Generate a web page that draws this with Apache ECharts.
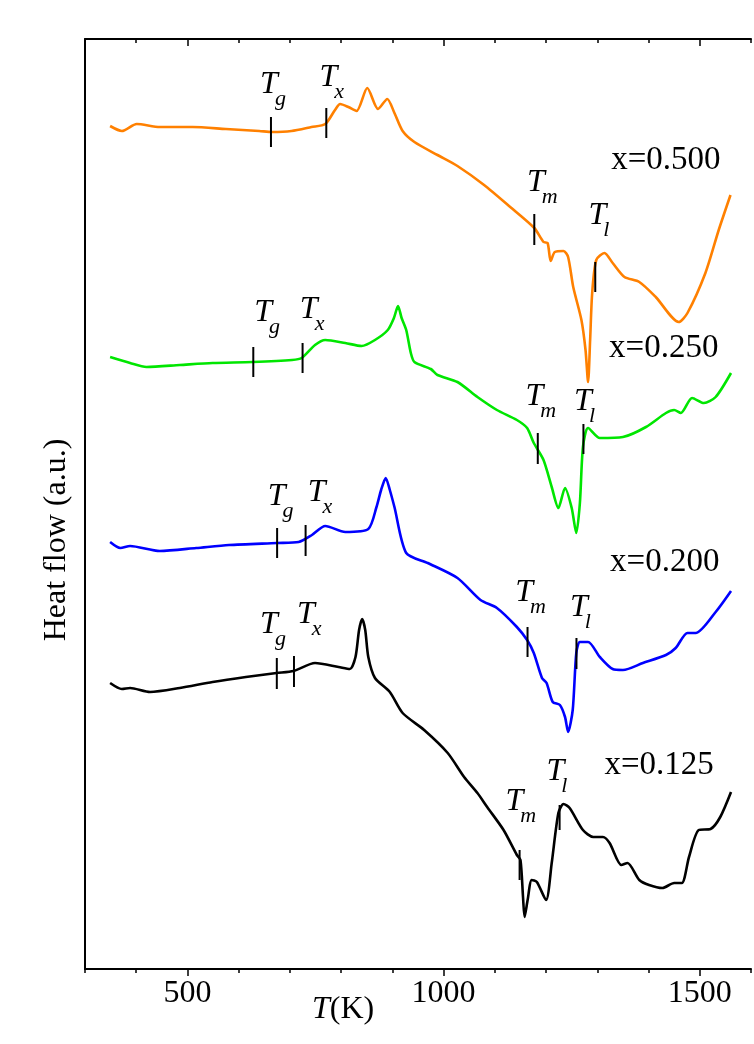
<!DOCTYPE html>
<html>
<head>
<meta charset="utf-8">
<script src="https://cdn.jsdelivr.net/npm/echarts@6/dist/echarts.min.js"></script>
<style>html,body{margin:0;padding:0;background:#fff}#c{width:754px;height:1044px}</style>
</head>
<body>
<div id="c"></div>
<script>
// ---- data (T in K, heat flow in a.u.) ----
const tickLabels = [500, 1000, 1500];

const T500 = [349,372,401,446,510,575,640,665,703,742,769,788,798,814,830,851,872,890,904,920,943,988,1027,1079,1130,1177,1195,1203,1209,1217,1234,1243,1253,1269,1277,1282,1286,1290,1298,1314,1330,1353,1382,1414,1459,1476,1511,1537,1560];
const H500 = [84.3,83.8,84.5,84.2,84.2,84.0,83.8,83.7,83.8,84.2,84.5,85.9,86.5,86.2,85.8,88.1,86.0,87.0,85.6,83.8,82.7,81.4,80.3,78.4,76.2,74.1,72.7,72.6,70.8,71.7,71.8,71.2,68.2,64.9,61.9,58.7,62.9,67.6,70.9,71.6,70.6,69.2,68.7,67.2,64.7,65.6,69.6,73.9,77.4];

const T250 = [349,388,420,485,549,627,704,723,749,769,808,840,866,891,903,911,918,927,936,943,975,988,1027,1066,1104,1143,1163,1176,1195,1211,1224,1237,1250,1259,1266,1272,1282,1305,1350,1395,1434,1450,1463,1485,1508,1531,1561];
const H250 = [61.2,60.6,60.2,60.4,60.6,60.7,60.9,61.1,62.4,62.9,62.6,62.3,62.9,63.9,65.1,66.3,65.1,63.9,61.6,60.7,60.0,59.4,58.7,57.2,55.9,54.9,54.1,52.6,50.9,48.2,46.1,48.1,46.1,43.6,46.6,52.2,54.1,53.1,53.2,54.2,55.6,55.9,55.6,57.1,56.6,57.2,59.6];

const T200 = [349,369,388,446,517,581,675,717,743,769,808,853,869,878,887,895,904,927,969,1027,1072,1104,1143,1163,1176,1192,1201,1213,1227,1237,1243,1252,1259,1266,1282,1305,1330,1350,1389,1434,1453,1476,1492,1531,1561];
const H200 = [42.7,42.1,42.3,41.8,42.1,42.4,42.6,42.7,43.4,44.3,43.7,44.0,46.2,47.9,49.1,47.9,46.2,41.6,40.6,39.1,36.9,36.1,34.2,32.9,31.6,29.1,28.6,26.7,26.4,25.2,23.7,25.9,31.6,32.7,32.7,31.2,30.0,29.9,30.6,31.4,32.1,33.6,33.6,35.7,37.8];

const T125 = [349,372,388,427,485,549,614,674,707,749,795,817,828,835,841,847,853,866,895,920,962,1008,1040,1066,1085,1117,1143,1150,1155,1158,1164,1172,1182,1200,1211,1224,1234,1246,1272,1292,1311,1324,1347,1359,1382,1401,1427,1450,1465,1479,1498,1521,1540,1561];
const H125 = [28.6,28.0,28.1,27.7,28.1,28.7,29.2,29.6,29.8,30.6,30.2,30.0,31.2,33.9,35.0,33.9,31.2,29.1,27.7,25.6,23.9,21.6,19.2,17.6,16.2,13.9,11.4,10.9,7.2,5.2,6.9,8.9,8.7,6.9,10.6,15.6,16.5,16.1,13.9,13.2,13.2,12.6,10.4,10.6,8.9,8.4,8.1,8.6,8.6,11.2,13.9,14.0,15.2,17.7];

// characteristic temperatures: [T, top, bottom]
const marks500 = [[663,85.2,82.2],[771,86.1,83.1],[1177,75.5,72.4],[1296,70.7,67.7]];
const marks250 = [[628.5,62.2,59.2],[724.7,62.6,59.6],[1183.8,53.6,50.5],[1272.9,54.5,51.5]];
const marks200 = [[675,44.1,41.1],[730.6,44.4,41.3],[1163.8,34.2,31.2],[1259.3,33.1,30.0]];
const marks125 = [[674.4,31.1,28.0],[707.9,31.3,28.2],[1148.3,11.9,8.9],[1226.4,16.4,13.9]];

// annotation labels: [T, heat flow, subscript]
const tLabels = [
  [659,87.4,'g'],[775,88.1,'x'],[1180,77.6,'m'],[1300,74.3,'l'],
  [647.5,64.6,'g'],[736.6,64.9,'x'],[1177,56.2,'m'],[1272,55.7,'l'],
  [674,46.2,'g'],[752,46.6,'x'],[1157,36.6,'m'],[1264,35.1,'l'],
  [659,33.4,'g'],[731,34.4,'x'],[1138,15.7,'m'],[1218,18.7,'l']
];
const seriesNames = ['x=0.500','x=0.250','x=0.200','x=0.125'];
const nameLabels = [[1327,79.9],[1323,61.1],[1325,39.7],[1314,19.4]];

// ---- chart ----
const FONT = '"Liberation Serif","Times New Roman",serif';
const zip = (a,b) => a.map((v,i)=>[v,b[i]]);
const curves = [
  {name: seriesNames[0], t: T500, h: H500, color: '#FF8000', marks: marks500},
  {name: seriesNames[1], t: T250, h: H250, color: '#00E600', marks: marks250},
  {name: seriesNames[2], t: T200, h: H200, color: '#0000FF', marks: marks200},
  {name: seriesNames[3], t: T125, h: H125, color: '#000000', marks: marks125}
];

const series = [];
curves.forEach(c => {
  series.push({
    type: 'line', name: c.name, data: zip(c.t, c.h), smooth: 0.25,
    showSymbol: false, symbol: 'none', lineStyle: {color: c.color, width: 2.6},
    z: 2, silent: true
  });
});
curves.forEach(c => {
  c.marks.forEach(m => {
    series.push({
      type: 'line', data: [[m[0], m[1]], [m[0], m[2]]], symbol: 'none',
      lineStyle: {color: '#000', width: 2}, z: 5, silent: true
    });
  });
});
series.push({
  type: 'custom', z: 6, silent: true,
  data: tLabels.map(d => [d[0], d[1]]),
  renderItem: function (params, api) {
    const p = api.coord([api.value(0), api.value(1)]);
    const sub = tLabels[params.dataIndex][2];
    return {
      type: 'group',
      children: [
        {type: 'text', x: p[0], y: p[1] - 10,
         style: {text: 'T', fontSize: 32, fontStyle: 'italic', fontFamily: FONT, fill: '#000', align: 'center', verticalAlign: 'middle'}},
        {type: 'text', x: p[0] + 6, y: p[1] + 4,
         style: {text: sub, fontSize: 22, fontStyle: 'italic', fontFamily: FONT, fill: '#000', align: 'left', verticalAlign: 'middle'}}
      ]
    };
  }
});
series.push({
  type: 'custom', z: 6, silent: true,
  data: nameLabels,
  renderItem: function (params, api) {
    const p = api.coord([api.value(0), api.value(1)]);
    return {type: 'text', x: p[0], y: p[1] - 10,
      style: {text: seriesNames[params.dataIndex], fontSize: 33, fontFamily: FONT, fill: '#000', align: 'left', verticalAlign: 'middle'}};
  }
});

const baseX = {type: 'value', min: 300, max: 1600, interval: 100, splitLine: {show: false}};
const option = {
  animation: false,
  backgroundColor: '#fff',
  grid: {left: 85, top: 39, width: 671, height: 930},
  xAxis: [
    Object.assign({}, baseX, {
      position: 'bottom',
      axisLine: {lineStyle: {color: '#000', width: 2}},
      axisTick: {inside: false, length: 4, lineStyle: {color: '#000', width: 1.5}},
      axisLabel: {fontSize: 32, fontFamily: FONT, color: '#000', margin: 9,
        formatter: v => (tickLabels.indexOf(v) >= 0 ? String(v) : '')}
    }),
    Object.assign({}, baseX, {
      position: 'bottom',
      axisLine: {show: false},
      axisTick: {inside: false, length: 7, customValues: tickLabels, lineStyle: {color: '#000', width: 1.5}},
      axisLabel: {show: false}
    }),
    Object.assign({}, baseX, {
      position: 'top',
      axisLine: {lineStyle: {color: '#000', width: 2}},
      axisTick: {inside: true, length: 4, lineStyle: {color: '#000', width: 1.5}},
      axisLabel: {show: false}
    }),
    Object.assign({}, baseX, {
      position: 'top',
      axisLine: {show: false},
      axisTick: {inside: true, length: 7, customValues: tickLabels, lineStyle: {color: '#000', width: 1.5}},
      axisLabel: {show: false}
    })
  ],
  yAxis: [{
    type: 'value', min: 0, max: 93, position: 'left',
    axisLine: {show: true, lineStyle: {color: '#000', width: 2}},
    axisTick: {show: false}, axisLabel: {show: false}, splitLine: {show: false}
  }],
  graphic: [
    {type: 'text', left: 312, top: 994, silent: true,
     style: {text: '{i|T}{n|(K)}', rich: {i: {fontSize: 32, fontStyle: 'italic', fontFamily: FONT, fill: '#000'}, n: {fontSize: 32, fontFamily: FONT, fill: '#000'}}}},
    {type: 'text', x: 57, y: 540, rotation: Math.PI / 2, silent: true,
     style: {text: 'Heat flow (a.u.)', fontSize: 32, fontFamily: FONT, fill: '#000', align: 'center', verticalAlign: 'middle'}}
  ],
  series: series
};
const chart = echarts.init(document.getElementById('c'), null, {renderer: 'canvas'});
chart.setOption(option);
</script>
</body>
</html>
